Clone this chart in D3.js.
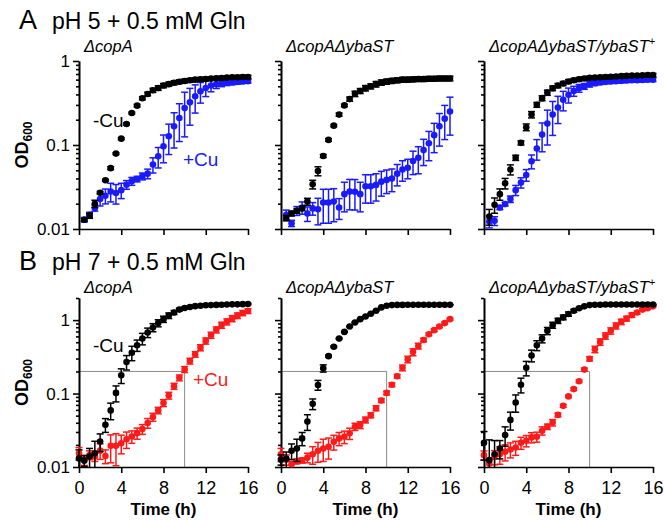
<!DOCTYPE html>
<html>
<head lang="en">
    <meta charset="UTF-8">
    <title></title>
    <script src="https://cdn.jsdelivr.net/npm/d3@7/dist/d3.min.js"></script>
    <style>
        body{margin:0;background:#fff;}
        text{font-family:"Liberation Sans",Arial,Helvetica,sans-serif;fill:#000;}
        .axis path,.axis line{stroke:#000;stroke-width:1.6px;}
        .yaxis text{font-size:17px;}
        .xaxis text{font-size:18px;}
    </style>
</head>
<body>
<svg id="fig" width="664" height="520"></svg>
<script>
    // sampling times (h)
    var timeA=[0.5,1,1.5,2,2.5,3,3.5,4,4.5,5,5.5,6,6.5,7,7.5,8,8.5,9,9.5,10,10.5,11,11.5,12,12.5,13,13.5,14,14.5,15,15.5,16];
    var timeB=[0,0.5,1,1.5,2,2.5,3,3.5,4,4.5,5,5.5,6,6.5,7,7.5,8,8.5,9,9.5,10,10.5,11,11.5,12,12.5,13,13.5,14,14.5,15,15.5,16];

    // A: pH 5, -Cu (black) / +Cu (blue)
    var a1Minus=[0.0129,0.0144,0.020,0.027,0.038,0.053,0.079,0.119,0.178,0.24,0.294,0.36,0.405,0.448,0.477,0.51,0.53,0.55,0.567,0.578,0.589,0.6,0.606,0.611,0.617,0.622,0.628,0.634,0.64,0.64,0.646,0.646];
    var a1MinusErr=[0.0005,0.001,0.002,0.001,0.001,0.002,0.002,0.003,0.005,0.006,0.01,0.015,0.02,0.025,0.03,0.03,0.03,0.03,0.03,0.03,0.03,0.03,0.03,0.03,0.03,0.03,0.03,0.03,0.03,0.03,0.03,0.03];
    var a1Plus=[0.0129,0.0148,0.0178,0.0228,0.0249,0.028,0.0268,0.029,0.0337,0.0371,0.0394,0.0424,0.0456,0.0584,0.0733,0.0964,0.127,0.167,0.21,0.275,0.322,0.38,0.435,0.477,0.51,0.53,0.545,0.555,0.56,0.565,0.57,0.575];
    var a1PlusErr=[0.0008,0.001,0.0015,0.004,0.005,0.007,0.007,0.006,0.004,0.004,0.003,0.004,0.006,0.012,0.02,0.035,0.05,0.075,0.1,0.15,0.15,0.14,0.12,0.1,0.08,0.06,0.05,0.045,0.04,0.035,0.03,0.03];

    var a2Minus=[0.0135,0.0153,0.0165,0.0176,0.0212,0.034,0.049,0.074,0.115,0.17,0.23,0.296,0.352,0.407,0.44,0.475,0.5,0.53,0.555,0.569,0.58,0.59,0.6,0.6,0.605,0.61,0.61,0.615,0.615,0.62,0.62,0.62];
    var a2MinusErr=[0.001,0.001,0.001,0.001,0.002,0.004,0.006,0.003,0.004,0.005,0.01,0.01,0.02,0.03,0.03,0.035,0.035,0.04,0.04,0.04,0.04,0.04,0.04,0.04,0.04,0.04,0.04,0.04,0.04,0.04,0.04,0.04];
    var a2Plus=[0.0148,0.0117,0.0165,0.018,0.0153,0.0176,0.0172,0.0207,0.0207,0.0212,0.018,0.026,0.0279,0.0278,0.026,0.0323,0.0323,0.0335,0.0366,0.0384,0.0398,0.0456,0.051,0.0536,0.0644,0.0704,0.0869,0.105,0.131,0.167,0.206,0.251];
    var a2PlusErr=[0.002,0.001,0.002,0.003,0.003,0.003,0.006,0.009,0.009,0.009,0.005,0.01,0.011,0.011,0.01,0.012,0.012,0.012,0.012,0.012,0.012,0.013,0.014,0.014,0.02,0.025,0.03,0.04,0.05,0.07,0.09,0.12];

    var a3Minus=[0.0141,0.0194,0.026,0.035,0.051,0.0705,0.106,0.163,0.23,0.301,0.361,0.42,0.474,0.51,0.54,0.57,0.59,0.607,0.62,0.63,0.635,0.64,0.645,0.65,0.655,0.66,0.665,0.67,0.67,0.675,0.68,0.68];
    var a3MinusErr=[0.003,0.004,0.004,0.005,0.007,0.005,0.006,0.015,0.02,0.02,0.025,0.03,0.03,0.03,0.03,0.03,0.03,0.03,0.03,0.03,0.03,0.03,0.03,0.03,0.03,0.03,0.03,0.03,0.03,0.03,0.03,0.03];
    var a3Plus=[0.0123,0.0125,0.018,0.0198,0.0227,0.029,0.0357,0.044,0.064,0.091,0.133,0.18,0.23,0.28,0.345,0.396,0.44,0.475,0.5,0.53,0.545,0.555,0.565,0.57,0.575,0.58,0.585,0.59,0.59,0.595,0.6,0.6];
    var a3PlusErr=[0.002,0.0015,0.001,0.001,0.002,0.004,0.005,0.007,0.012,0.025,0.05,0.08,0.1,0.1,0.09,0.08,0.06,0.05,0.04,0.04,0.035,0.03,0.03,0.03,0.03,0.03,0.03,0.03,0.03,0.03,0.03,0.03];

    // B: pH 7, -Cu (black) / +Cu (red)
    var b1Minus=[0.0131,0.0122,0.0139,0.0154,0.0222,0.0376,0.059,0.102,0.177,0.269,0.36,0.455,0.56,0.678,0.794,0.91,1.03,1.15,1.27,1.39,1.46,1.51,1.55,1.57,1.59,1.6,1.61,1.62,1.63,1.64,1.64,1.65,1.66];
    var b1MinusErr=[0.004,0.002,0.004,0.007,0.006,0.008,0.015,0.025,0.04,0.06,0.08,0.08,0.1,0.1,0.1,0.1,0.1,0.1,0.08,0.06,0.05,0.04,0.03,0.03,0.03,0.03,0.03,0.03,0.03,0.03,0.03,0.03,0.03];
    var b1Plus=[0.0154,0.0125,0.0146,0.0139,0.0167,0.0141,0.0194,0.0194,0.0211,0.0239,0.026,0.0289,0.0328,0.0397,0.0479,0.059,0.0745,0.094,0.126,0.164,0.213,0.277,0.342,0.422,0.521,0.624,0.738,0.855,0.949,1.05,1.15,1.25,1.33];
    var b1PlusErr=[0.003,0.002,0.002,0.002,0.004,0.003,0.008,0.009,0.006,0.006,0.005,0.005,0.005,0.006,0.006,0.006,0.008,0.01,0.012,0.015,0.02,0.025,0.03,0.04,0.05,0.06,0.07,0.08,0.09,0.1,0.1,0.1,0.1];

    var b2Minus=[0.0126,0.013,0.0166,0.0179,0.0245,0.0415,0.0724,0.131,0.221,0.323,0.434,0.56,0.691,0.818,0.929,1.03,1.12,1.22,1.34,1.49,1.57,1.6,1.61,1.61,1.62,1.62,1.62,1.62,1.62,1.62,1.62,1.62,1.62];
    var b2MinusErr=[0.002,0.003,0.004,0.006,0.005,0.01,0.012,0.02,0.025,0.01,0.01,0.01,0.01,0.01,0.01,0.01,0.01,0.01,0.01,0.01,0.01,0.01,0.01,0.01,0.01,0.01,0.01,0.01,0.01,0.01,0.01,0.01,0.01];
    var b2Plus=[0.0149,0.0126,0.0109,0.012,0.0123,0.0134,0.0149,0.0166,0.0179,0.0188,0.022,0.0245,0.0258,0.0287,0.0354,0.0373,0.0438,0.0507,0.0632,0.0806,0.102,0.132,0.172,0.224,0.292,0.367,0.444,0.537,0.643,0.73,0.818,0.91,1.03];
    var b2PlusErr=[0.003,0.002,0.001,0.001,0.001,0.002,0.004,0.005,0.006,0.006,0.005,0.005,0.005,0.005,0.004,0.004,0.004,0.004,0.005,0.005,0.006,0.008,0.01,0.02,0.03,0.04,0.04,0.03,0.03,0.03,0.03,0.03,0.03];

    var b3Minus=[0.0214,0.0124,0.0149,0.0179,0.0272,0.0438,0.0757,0.132,0.224,0.33,0.454,0.56,0.714,0.854,0.98,1.09,1.21,1.34,1.45,1.54,1.6,1.62,1.62,1.63,1.63,1.63,1.63,1.63,1.63,1.63,1.63,1.63,1.63];
    var b3MinusErr=[0.009,0.011,0.008,0.005,0.008,0.012,0.02,0.03,0.05,0.06,0.07,0.07,0.08,0.08,0.08,0.08,0.08,0.06,0.04,0.03,0.02,0.02,0.02,0.02,0.02,0.02,0.02,0.02,0.02,0.02,0.02,0.02,0.02];
    var b3Plus=[0.0145,0.0111,0.0137,0.0149,0.0161,0.0173,0.0184,0.0214,0.0228,0.0253,0.0258,0.0312,0.0354,0.0402,0.0512,0.068,0.0914,0.115,0.147,0.212,0.298,0.4,0.505,0.61,0.714,0.836,0.949,1.05,1.17,1.27,1.39,1.45,1.54];
    var b3PlusErr=[0.002,0.002,0.003,0.004,0.004,0.004,0.004,0.004,0.004,0.004,0.004,0.004,0.003,0.004,0.003,0.003,0.003,0.005,0.006,0.01,0.02,0.04,0.05,0.06,0.07,0.08,0.08,0.08,0.08,0.06,0.05,0.04,0.03];

    var xTicks=[0,4,8,12,16];
    var yMajor=[0.01,0.1,1];
    var yLabels=['0.01','0.1','1'];
    var refOD=0.2, refTime=10;

    var svg=d3.select('#fig');
    var plotW=169;
    var blue='#1a1aff', red='#ff1a1a';

    function drawPanel(p){
        var x=d3.scaleLinear().domain([0,16]).range([p.left,p.left+plotW]);
        var y=d3.scaleLog().domain([0.01,p.ymax]).range([p.bottom,p.top]);
        var g=svg.append('g');

        if(p.ref){
            g.append('path')
                .attr('d','M'+x(0)+','+y(refOD)+'H'+x(refTime)+'V'+y(0.01))
                .attr('fill','none')
                .attr('stroke','#8a8a8a')
                .attr('stroke-width',1);
        }

        var minor=y.ticks().filter(function(v){
            var l=Math.log10(v);
            return Math.abs(l-Math.round(l))>1e-6;
        });
        g.append('g').attr('class','axis yaxis')
            .attr('transform','translate('+p.left+',0)')
            .call(d3.axisLeft(y).tickValues(minor).tickSize(3).tickSizeOuter(0).tickFormat(''));
        g.append('g').attr('class','axis yaxis')
            .attr('transform','translate('+p.left+',0)')
            .call(d3.axisLeft(y).tickValues(yMajor).tickSize(6).tickSizeOuter(0).tickPadding(3)
                .tickFormat(function(d,i){return p.ylabels?yLabels[i]:'';}));
        g.append('g').attr('class','axis xaxis')
            .attr('transform','translate(0,'+p.bottom+')')
            .call(d3.axisBottom(x).tickValues(xTicks).tickSize(6).tickSizeOuter(0).tickPadding(8)
                .tickFormat(function(d){return p.xlabels?d:'';}));

        p.series.forEach(function(s){
            var sg=g.append('g').attr('stroke',s.color).attr('fill',s.color).attr('stroke-width',1.5);
            s.values.forEach(function(v,i){
                var e=s.err[i];
                var cx=x(p.time[i]);
                var hi=y(Math.min(v+e,p.ymax));
                var lowClamped=(v-e)<=0.01;
                var lo=lowClamped?y(0.01):y(v-e);
                sg.append('line').attr('x1',cx).attr('x2',cx).attr('y1',lo).attr('y2',hi);
                sg.append('line').attr('x1',cx-3.5).attr('x2',cx+3.5).attr('y1',hi).attr('y2',hi);
                if(!lowClamped){
                    sg.append('line').attr('x1',cx-3.5).attr('x2',cx+3.5).attr('y1',lo).attr('y2',lo);
                }
            });
            sg.selectAll('circle')
                .data(s.values)
                .enter()
                .append('circle')
                .attr('stroke','none')
                .attr('cx',function(d,i){return x(p.time[i]);})
                .attr('cy',function(d){return y(d);})
                .attr('r',3.3);
        });

        var st=g.append('text')
            .attr('x',p.left+5)
            .attr('y',p.top-p.subGap)
            .style('font-size','16.5px')
            .style('font-style','italic');
        st.append('tspan').text(p.subtitle);
        if(p.sup){
            st.append('tspan').attr('dy',-7).style('font-size','11px').text('+');
        }

        if(p.labels){
            p.labels.forEach(function(l){
                g.append('text').attr('x',l.x).attr('y',l.y)
                    .style('font-size','19px').style('fill',l.color).text(l.text);
            });
        }
    }

    function drawRowTitle(letter,text,base,top,bottom){
        svg.append('text').attr('x',19).attr('y',base).style('font-size','27px').text(letter);
        svg.append('text').attr('x',52).attr('y',base).style('font-size','23px').text(text);
        var od=svg.append('text')
            .attr('transform','translate(28,'+((top+bottom)/2)+') rotate(-90)')
            .attr('text-anchor','middle')
            .style('font-size','18px')
            .style('font-weight','bold');
        od.append('tspan').text('OD');
        od.append('tspan').attr('dy',4).style('font-size','12px').text('600');
    }

    var lefts=[79,281,484];
    var subs=['\u0394copA','\u0394copA\u0394ybaST','\u0394copA\u0394ybaST/ybaST'];

    drawRowTitle('A','pH 5 + 0.5 mM Gln',29,61,229);
    drawRowTitle('B','pH 7 + 0.5 mM Gln',270,298,467);

    var rowA=[
        [{values:a1Plus,err:a1PlusErr,color:blue},{values:a1Minus,err:a1MinusErr,color:'#000'}],
        [{values:a2Plus,err:a2PlusErr,color:blue},{values:a2Minus,err:a2MinusErr,color:'#000'}],
        [{values:a3Plus,err:a3PlusErr,color:blue},{values:a3Minus,err:a3MinusErr,color:'#000'}]
    ];
    var rowB=[
        [{values:b1Plus,err:b1PlusErr,color:red},{values:b1Minus,err:b1MinusErr,color:'#000'}],
        [{values:b2Plus,err:b2PlusErr,color:red},{values:b2Minus,err:b2MinusErr,color:'#000'}],
        [{values:b3Plus,err:b3PlusErr,color:red},{values:b3Minus,err:b3MinusErr,color:'#000'}]
    ];

    lefts.forEach(function(left,i){
        drawPanel({
            left:left,top:61,bottom:229,ymax:1,time:timeA,
            series:rowA[i],ylabels:i==0,xlabels:false,ref:false,
            subtitle:subs[i],sup:i==2,subGap:9,
            labels:i==0?[{x:93,y:127,text:'-Cu',color:'#000'},{x:183,y:166,text:'+Cu',color:blue}]:null
        });
        drawPanel({
            left:left,top:298,bottom:467,ymax:2,time:timeB,
            series:rowB[i],ylabels:i==0,xlabels:true,ref:true,
            subtitle:subs[i],sup:i==2,subGap:5,
            labels:i==0?[{x:93,y:352,text:'-Cu',color:'#000'},{x:193,y:386,text:'+Cu',color:red}]:null
        });
        svg.append('text')
            .attr('x',left+plotW/2).attr('y',515)
            .attr('text-anchor','middle')
            .style('font-size','17px').style('font-weight','bold')
            .text('Time (h)');
    });
</script>
</body>
</html>
